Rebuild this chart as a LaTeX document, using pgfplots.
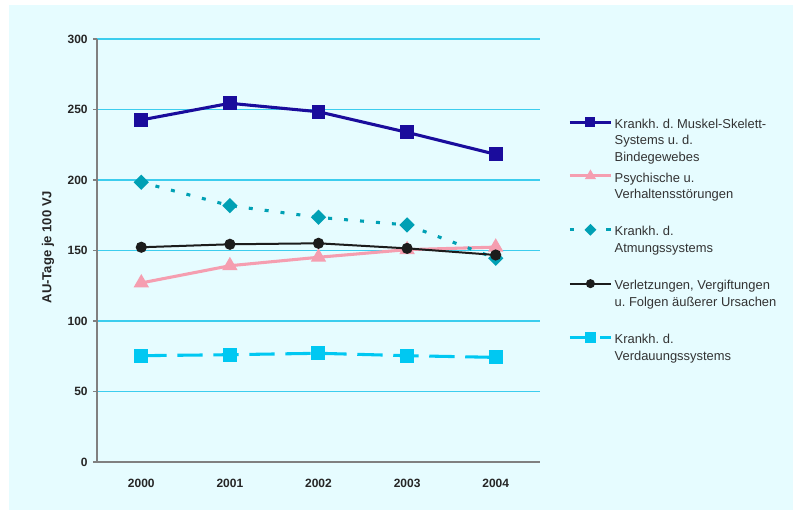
\documentclass[border=0pt]{standalone}
\usepackage{pgfplots}
\pgfplotsset{compat=1.18}
\usepackage{fontspec}
\setmainfont{Liberation Sans}
\frenchspacing

\definecolor{bgcyan}{RGB}{230,252,255}
\definecolor{gridcyan}{RGB}{60,205,238}
\definecolor{axisgray}{RGB}{128,128,128}
\definecolor{muskel}{RGB}{26,12,156}
\definecolor{psych}{RGB}{245,158,176}
\definecolor{atmung}{RGB}{0,160,180}
\definecolor{verletz}{RGB}{28,28,28}
\definecolor{verdau}{RGB}{0,200,242}

% legend samples sit on the first text line of each entry
\pgfplotsset{
  atmung legend/.style={legend image code/.code={
    \draw[##1, dash pattern=on 3.5pt off 24pt, dash phase=0pt,
      mark repeat=2, mark phase=2, mark size=2pt]
      plot coordinates {(0pt,13.4pt) (15.5pt,13.4pt) (31pt,13.4pt)};}},
  verdau legend/.style={legend image code/.code={
    \draw[##1, dash pattern=on 17pt off 6pt, dash phase=0pt,
      mark repeat=2, mark phase=2, mark size=2.8pt]
      plot coordinates {(0pt,13.4pt) (15.5pt,13.4pt) (31pt,13.4pt)};}},
}

\begin{document}
\begin{tikzpicture}
\path[use as bounding box] (0,0) rectangle (594.75pt,382.5pt);
\fill[bgcyan] (6.75pt,0) rectangle (594.75pt,378.75pt);
\begin{axis}[
  at={(72.75pt,36pt)}, anchor=south west,
  scale only axis, width=332.25pt, height=317.25pt,
  xmin=-0.5, xmax=4.5, ymin=0, ymax=300,
  xtick={0,1,2,3,4},
  xticklabels={2000,2001,2002,2003,2004},
  ytick={0,50,100,150,200,250,300},
  axis x line*=bottom, axis y line*=left,
  axis line style={axisgray, line width=1.3pt, -},
  x tick style={draw=none},
  y tick style={axisgray, line width=0.8pt},
  tick align=outside, major tick length=3pt,
  ymajorgrids, grid style={gridcyan, line width=0.8pt},
  /pgf/number format/assume math mode=true,
  ticklabel style={font=\fontsize{9}{11}\selectfont\bfseries, text=black!85},
  xticklabel style={yshift=-6pt},
  yticklabel style={xshift=-0.5pt},
  ylabel={AU-Tage je 100 VJ},
  every axis y label/.style={at={(axis description cs:-0.1106,0.508)},
    anchor=center, rotate=90, font=\fontsize{9.8}{12}\selectfont\bfseries, text=black!85},
  legend cell align=left,
  legend style={at={(axis description cs:1.0632,0.817)}, anchor=north west,
    draw=none, fill=none, inner sep=0pt, column sep=1.5pt, row sep=5.4pt,
    font=\fontsize{9.7}{12.4}\selectfont, text=black!80,
    nodes={align=left, inner sep=0pt}},
  legend image code/.code={
    \draw[mark repeat=2, mark phase=2, #1, mark size=2.6pt]
      plot coordinates {(0pt,13.4pt) (15.5pt,13.4pt) (31pt,13.4pt)};
  },
]
% Muskel-Skelett-System
\addplot[muskel, line width=2.3pt, mark=square*, mark size=4pt]
  coordinates {(0,242.6) (1,254.4) (2,248.4) (3,233.8) (4,218.2)};
\addlegendentry{\strut Krankh. d. Muskel-Skelett-\\\strut Systems u. d.\\\strut Bindegewebes}
% Psychische Stoerungen
\addplot[psych, line width=2.3pt, mark=triangle*, mark size=4.4pt]
  coordinates {(0,127.0) (1,139.2) (2,145.2) (3,150.6) (4,152.4)};
\addlegendentry{\strut Psychische u.\\\strut Verhaltensstörungen\\\strut}
% Atmungssystem (rotated squares as diamonds)
\addplot[atmung, line width=2.3pt, dash pattern=on 3pt off 9pt, dash phase=1pt,
  mark=square*, mark size=2.9pt, mark options={solid, rotate=45}, atmung legend]
  coordinates {(0,198.4) (1,181.8) (2,173.5) (3,168.1) (4,144.5)};
\addlegendentry{\strut Krankh. d.\\\strut Atmungssystems\\\strut}
% Verletzungen
\addplot[verletz, line width=1.5pt, mark=*, mark size=3.4pt]
  coordinates {(0,152.3) (1,154.4) (2,155.1) (3,151.5) (4,146.8)};
\addlegendentry{\strut Verletzungen, Vergiftungen\\\strut u. Folgen äußerer Ursachen\\\strut}
% Verdauungssystem
\addplot[verdau, line width=2.3pt, dash pattern=on 19pt off 8pt,
  mark=square*, mark size=4.1pt, mark options={solid}, verdau legend]
  coordinates {(0,75.4) (1,76.1) (2,77.1) (3,75.4) (4,74.2)};
\addlegendentry{\strut Krankh. d.\\\strut Verdauungssystems\\\strut}
\end{axis}
\end{tikzpicture}
\end{document}
